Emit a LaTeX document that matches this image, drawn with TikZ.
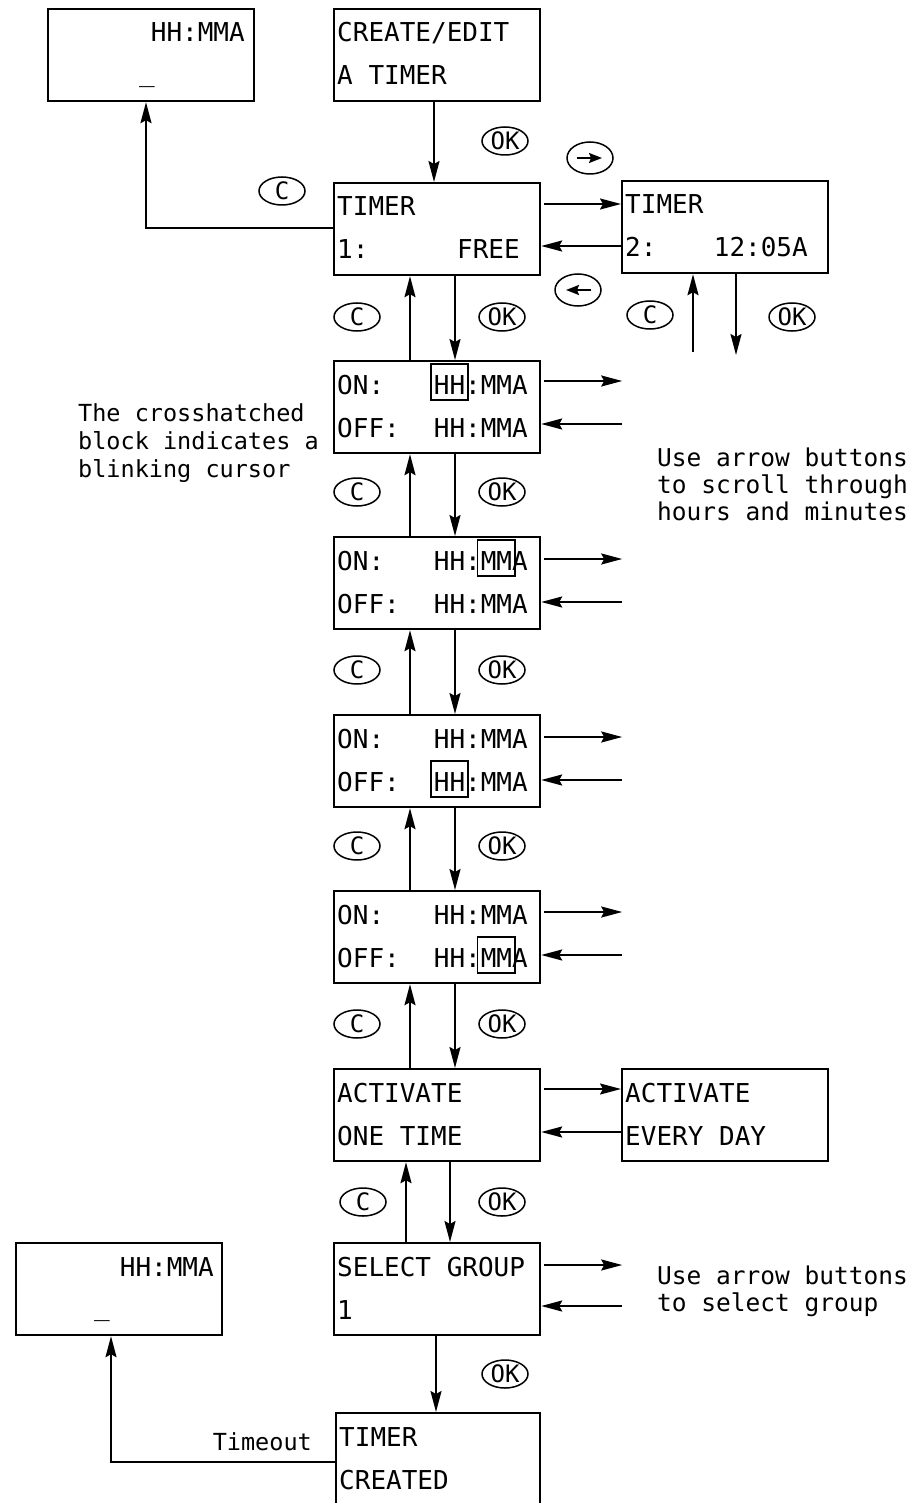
\documentclass[tikz,border=0pt]{standalone}
\usepackage{fontspec}
\setmonofont{DejaVu Sans Mono}
\usetikzlibrary{arrows.meta,shapes.geometric,calc}
\tikzset{
 scr/.style={draw, line width=2.2pt, minimum width=206pt, minimum height=92pt, anchor=north west, inner sep=0pt},
 lbl/.style={inner sep=0pt, font=\ttfamily\fontsize{26}{26}\selectfont, anchor=base west},
 lble/.style={lbl, anchor=base east},
 arr/.style={line width=2pt, -{Stealth[length=21pt,width=11pt,inset=3pt]}},
 sarr/.style={line width=2pt, -{Stealth[length=13pt,width=10pt,inset=2pt]}},
 btn/.style={draw, ellipse, line width=1.5pt, minimum width=46pt, minimum height=28pt, inner sep=0pt, text height=17pt, text depth=0pt, font=\ttfamily\fontsize{24}{24}\selectfont},
 cur/.style={line width=1.8pt},
 note/.style={inner sep=0pt, anchor=base west, align=left, font=\ttfamily\fontsize{24.5}{27}\selectfont},
}
\begin{document}
\begin{tikzpicture}[x=1pt,y=-1pt]
\useasboundingbox (0,0) rectangle (916,1503);
% screens
\node[scr] (tl) at (47,8) {};
\node[scr] (ce) at (333,8) {};
\node[scr] (t1) at (333,182) {};
\node[scr] (t2) at (621,180) {};
\node[scr] (s1) at (333,360) {};
\node[scr] (s2) at (333,536) {};
\node[scr] (s3) at (333,714) {};
\node[scr] (s4) at (333,890) {};
\node[scr] (a1) at (333,1068) {};
\node[scr] (a2) at (621,1068) {};
\node[scr] (sg) at (333,1242) {};
\node[scr] (bl) at (15,1242) {};
\node[scr, minimum width=204pt, minimum height=96pt] (tc) at (335,1412) {};
% screen texts
\node[lble] (tlt) at (245,42) {HH:MMA};
\node[lbl] (tlu) at (139,82) {\_};
\node[lbl] (ce1) at (337,42) {CREATE/EDIT};
\node[lbl] (ce2) at (337,85) {A TIMER};
\node[lbl] (t1a) at (337,216) {TIMER};
\node[lbl] (t1b) at (337,259) {1:};
\node[lble] (t1c) at (520,259) {FREE};
\node[lbl] (t2a) at (625,214) {TIMER};
\node[lbl] (t2b) at (625,257) {2:};
\node[lble] (t2c) at (808,257) {12:05A};
\foreach \s/\T in {s1/360,s2/536,s3/714,s4/890}{
  \node[lbl] (\s on) at (337,\T+34) {ON:};
  \node[lble] (\s ont) at (528,\T+34) {HH:MMA};
  \node[lbl] (\s off) at (337,\T+77) {OFF:};
  \node[lble] (\s offt) at (528,\T+77) {HH:MMA};
}
\node[lbl] (a1a) at (337,1102) {ACTIVATE};
\node[lbl] (a1b) at (337,1145) {ONE TIME};
\node[lbl] (a2a) at (625,1102) {ACTIVATE};
\node[lbl] (a2b) at (625,1145) {EVERY DAY};
\node[lbl] (sga) at (337,1276) {SELECT GROUP};
\node[lbl] (sgb) at (337,1319) {1};
\node[lbl] (tca) at (339,1446) {TIMER};
\node[lbl] (tcb) at (339,1489) {CREATED};
\node[lble] (blt) at (214,1276) {HH:MMA};
\node[lbl] (blu) at (94,1315) {\_};
% cursors
\draw[cur] ($(s1ont.base west)+(-3,-30)$) rectangle ($(s1ont.base west)+(34.3,6)$);
\draw[cur] ($(s2ont.base west)+(43.8,-30)$) rectangle ($(s2ont.base west)+(81,6)$);
\draw[cur] ($(s3offt.base west)+(-3,-30)$) rectangle ($(s3offt.base west)+(34.3,6)$);
\draw[cur] ($(s4offt.base west)+(43.8,-30)$) rectangle ($(s4offt.base west)+(81,6)$);
% vertical connectors
\draw[arr] ($(ce.south west)+(101,0)$) -- ($(t1.north west)+(101,0)$);
\foreach \u/\l in {t1/s1,s1/s2,s2/s3,s3/s4,s4/a1}{
  \draw[arr] ($(\l.north west)+(77,0)$) -- ($(\u.south west)+(77,0)$);
  \draw[arr] ($(\u.south west)+(122,0)$) -- ($(\l.north west)+(122,0)$);
}
\draw[arr] ($(sg.north west)+(73,0)$) -- ($(a1.south west)+(73,0)$);
\draw[arr] ($(a1.south west)+(117,0)$) -- ($(sg.north west)+(117,0)$);
\draw[arr] ($(sg.south west)+(103,0)$) -- ($(tc.north west)+(101,0)$);
\coordinate (t2up) at (693,352);
\coordinate (t2dn) at (736,355);
\draw[arr] (t2up) -- (t2up |- t2.south);
\draw[arr] (t2dn |- t2.south) -- (t2dn);
% horizontal connectors
\coordinate (p1) at ($(t1.north east)+(3,22)$);
\coordinate (p2) at ($(t1.north east)+(0,64)$);
\draw[arr] (p1) -- (p1 -| t2.west);
\draw[arr] (p2 -| t2.west) -- (p2);
\coordinate (q1) at ($(a1.north east)+(3,21)$);
\coordinate (q2) at ($(a1.north east)+(0,64)$);
\draw[arr] (q1) -- (q1 -| a2.west);
\draw[arr] (q2 -| a2.west) -- (q2);
\foreach \s/\a/\b in {s1/21/64,s2/23/66,s3/23/66,s4/22/65,sg/23/64}{
  \coordinate (\s o) at ($(\s.north east)+(3,\a)$);
  \coordinate (\s oe) at ($(\s o)+(78,0)$);
  \coordinate (\s i) at ($(\s.north east)+(0,\b)$);
  \coordinate (\s ie) at ($(\s i)+(81,0)$);
  \draw[arr] (\s o) -- (\s oe);
  \draw[arr] (\s ie) -- (\s i);
}
% left connectors
\draw[arr] ($(t1.north west)+(0,46)$) -| ($(tl.south west)+(99,0)$);
\draw[arr] ($(tc.north west)+(0,50)$) -| ($(bl.south west)+(96,0)$);
\node[inner sep=0pt, anchor=base east, font=\ttfamily\fontsize{23.5}{23.5}\selectfont] (tmo) at (312,1450) {Timeout};
% buttons
\node[btn] (ok0) at (505,141) {OK};
\node[btn] (c0) at (282,191) {C};
\node[btn, minimum height=32pt] (rb) at (590,158) {};
\draw[sarr] ($(rb.center)+(-13,0)$) -- ($(rb.center)+(12,0)$);
\node[btn, minimum height=32pt] (lb) at (578,290) {};
\draw[sarr] ($(lb.center)+(13,0)$) -- ($(lb.center)+(-12,0)$);
\node[btn] (c1) at (357,317) {C};
\node[btn] (ok1) at (502,317) {OK};
\node[btn] (c1b) at (650,315) {C};
\node[btn] (ok1b) at (792,317) {OK};
\node[btn] (c2) at (357,492) {C};
\node[btn] (ok2) at (502,492) {OK};
\node[btn] (c3) at (357,670) {C};
\node[btn] (ok3) at (502,670) {OK};
\node[btn] (c4) at (357,846) {C};
\node[btn] (ok4) at (502,846) {OK};
\node[btn] (c5) at (357,1024) {C};
\node[btn] (ok5) at (502,1024) {OK};
\node[btn] (c6) at (363,1202) {C};
\node[btn] (ok6) at (502,1202) {OK};
\node[btn] (ok7) at (505,1374) {OK};
% notes (anchor base = baseline of last line)
\node[note, font=\ttfamily\fontsize{23.5}{28}\selectfont] (n1) at (78,477) {The crosshatched\\block indicates a\\blinking cursor};
\node[note] (n2) at (657,520) {Use arrow buttons\\to scroll through\\hours and minutes};
\node[note] (n3) at (657,1311) {Use arrow buttons\\to select group};
\end{tikzpicture}
\end{document}
